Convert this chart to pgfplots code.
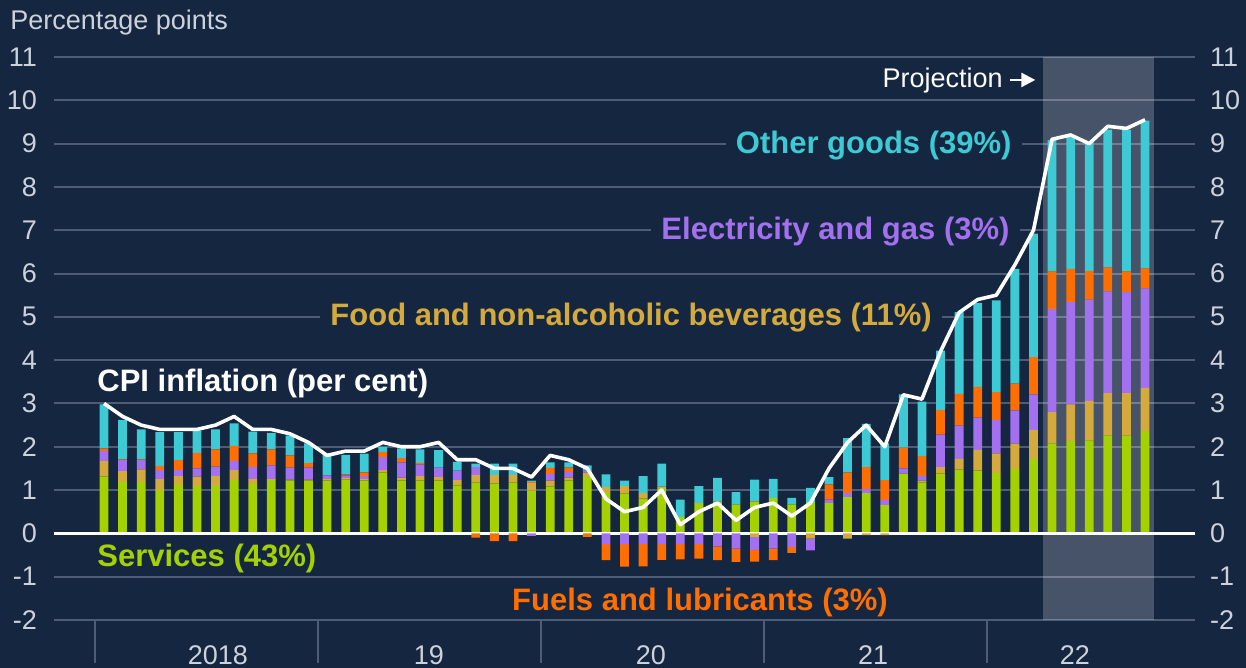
\documentclass[border=0pt]{standalone}
\usepackage{fontspec}
\setmainfont{Liberation Sans}
\usepackage{pgfplots}
\pgfplotsset{compat=1.18}
\usepackage{pgfplotstable}
\usetikzlibrary{arrows.meta}

\definecolor{bg}{RGB}{21,38,64}
\definecolor{gridc}{RGB}{78,93,116}
\definecolor{labc}{RGB}{205,210,218}
\definecolor{cserv}{RGB}{163,210,0}
\definecolor{cfood}{RGB}{212,170,60}
\definecolor{celec}{RGB}{163,112,240}
\definecolor{cfuel}{RGB}{255,110,0}
\definecolor{cother}{RGB}{62,202,212}

\pgfplotstableread{
x s f e fu o fn en fun cpi
0 1.31 0.36 0.23 0.06 1.02 0 0 0 3.0
1 1.19 0.25 0.25 0.02 0.91 0 0 0 2.7
2 1.19 0.29 0.21 0.02 0.69 0 0 0 2.5
3 1.00 0.25 0.21 0.10 0.78 0 0 0 2.4
4 1.12 0.20 0.14 0.23 0.65 0 0 0 2.4
5 1.09 0.22 0.19 0.36 0.51 0 0 0 2.4
6 1.09 0.24 0.21 0.40 0.46 0 0 0 2.5
7 1.23 0.23 0.21 0.35 0.52 0 0 0 2.7
8 1.14 0.12 0.27 0.32 0.50 0 0 0 2.4
9 1.23 0.02 0.32 0.37 0.38 0 0 0 2.4
10 1.22 0.02 0.28 0.28 0.46 0 0 0 2.3
11 1.22 0.02 0.28 0.10 0.46 0 0 0 2.1
12 1.22 0.04 0.08 0.00 0.50 0 0 0 1.8
13 1.24 0.04 0.06 0.02 0.45 0 0 0 1.9
14 1.22 0.03 0.07 0.09 0.43 0 0 0 1.9
15 1.40 0.06 0.30 0.12 0.12 0 0 0 2.1
16 1.22 0.07 0.35 0.10 0.22 0 0 0 2.0
17 1.22 0.10 0.27 0.04 0.31 0 0 0 2.0
18 1.22 0.08 0.22 0.00 0.40 0 0 0 2.1
19 1.11 0.12 0.22 0.00 0.20 0 0 0 1.7
20 1.18 0.17 0.18 0.00 0.08 0 0 -0.10 1.7
21 1.15 0.20 0.00 0.00 0.26 0 0 -0.18 1.5
22 1.18 0.17 0.00 0.00 0.26 0 0 -0.18 1.5
23 0.99 0.17 0.00 0.03 0.03 0 -0.06 0 1.3
24 1.08 0.14 0.15 0.14 0.13 0 0 0 1.8
25 1.22 0.07 0.13 0.10 0.12 0 0 0 1.7
26 1.30 0.10 0.05 0.00 0.12 0 0 -0.08 1.5
27 0.95 0.12 0 0 0.29 0 -0.25 -0.37 0.8
28 0.92 0.17 0 0 0.13 0 -0.25 -0.52 0.5
29 0.80 0.13 0 0 0.39 0 -0.24 -0.52 0.6
30 1.05 0.03 0 0 0.53 0 -0.25 -0.36 1.0
31 0.38 0 0 0 0.40 0 -0.24 -0.36 0.2
32 0.68 0.02 0 0 0.39 0 -0.25 -0.33 0.5
33 0.72 0.02 0 0 0.54 0 -0.30 -0.32 0.7
34 0.67 0 0 0 0.28 0 -0.35 -0.31 0.3
35 0.72 0.02 0 0 0.50 -0.08 -0.30 -0.27 0.6
36 0.82 0 0 0 0.44 0 -0.35 -0.27 0.7
37 0.67 0 0 0 0.15 0 -0.32 -0.13 0.4
38 0.72 0 0 0 0.33 -0.12 -0.27 0 0.7
39 0.70 0 0.08 0.35 0.17 0 0 0 1.5
40 0.84 0 0.09 0.48 0.79 -0.12 0 0 2.1
41 0.93 0 0.10 0.50 1.00 -0.04 0 0 2.5
42 0.65 0 0.12 0.46 0.85 -0.04 0 0 2.0
43 1.38 0 0.12 0.48 1.23 0 0 0 3.2
44 1.18 0.04 0.11 0.46 1.25 0 0 0 3.1
45 1.38 0.15 0.75 0.57 1.37 0 0 0 4.2
46 1.47 0.25 0.77 0.73 1.89 0 0 0 5.1
47 1.45 0.48 0.74 0.71 1.94 0 0 0 5.4
48 1.39 0.46 0.77 0.64 2.12 0 0 0 5.5
49 1.49 0.58 0.77 0.62 2.65 0 0 0 6.2
50 1.72 0.67 0.82 0.86 2.85 0 0 0 7.0
51 2.08 0.72 2.38 0.87 3.03 0 0 0 9.1
52 2.13 0.85 2.36 0.77 3.04 0 0 0 9.2
53 2.15 0.91 2.34 0.66 2.98 0 0 0 9.0
54 2.26 0.98 2.35 0.55 3.18 0 0 0 9.4
55 2.26 0.98 2.33 0.48 3.27 0 0 0 9.35
56 2.36 1.00 2.30 0.46 3.41 0 0 0 9.55
}\data

\pgfplotsset{
  base/.style={
    at={(27pt,24pt)}, anchor=south west,
    scale only axis, width=570.5pt, height=281.5pt,
    xmin=-2.69, xmax=58.69, ymin=-2, ymax=11,
    clip=false,
    axis line style={draw=none},
    xtick=\empty,
    ytick={-2,-1,0,1,2,3,4,5,6,7,8,9,10,11},
    major tick length=0pt,
    ytick style={draw=none},
    /pgf/number format/assume math mode=true,
    yticklabel style={font=\fontsize{13.5}{16}\selectfont, text=labc},
  },
  bars/.style={ybar stacked, bar width=4.4pt},
}
\newcommand{\lab}{\bfseries\fontsize{15.5}{18}\selectfont}
\newcommand{\tlab}{\fontsize{13.5}{16}\selectfont}

\begin{document}
\begin{tikzpicture}
\useasboundingbox (0,0) rectangle (623pt,334pt);
\fill[bg] (0,0) rectangle (623pt,334pt);
\node[anchor=west, inner sep=0pt, text=labc, font=\tlab] at (5pt,322.5pt) {Percentage points};

% Axis 0: grid, projection shading, left labels, year ticks
\begin{axis}[base,
  ymajorgrids, grid style={gridc, line width=1pt},
  yticklabel style={xshift=-5pt},
]
\addplot[draw=none, fill=white, fill opacity=0.21] coordinates {(50.5,-2) (56.5,-2) (56.5,11) (50.5,11)} -- cycle;
\draw[gridc, line width=1pt] (axis cs:-0.5,-2) -- (axis cs:-0.5,-2.99);
\draw[gridc, line width=1pt] (axis cs:11.5,-2) -- (axis cs:11.5,-2.99);
\draw[gridc, line width=1pt] (axis cs:23.5,-2) -- (axis cs:23.5,-2.99);
\draw[gridc, line width=1pt] (axis cs:35.5,-2) -- (axis cs:35.5,-2.99);
\draw[gridc, line width=1pt] (axis cs:47.5,-2) -- (axis cs:47.5,-2.99);
\node[text=labc, inner sep=0pt, font=\tlab] at (axis cs:6.13,-2.82) {2018};
\node[text=labc, inner sep=0pt, font=\tlab] at (axis cs:17.48,-2.82) {19};
\node[text=labc, inner sep=0pt, font=\tlab] at (axis cs:29.42,-2.82) {20};
\node[text=labc, inner sep=0pt, font=\tlab] at (axis cs:41.37,-2.82) {21};
\node[text=labc, inner sep=0pt, font=\tlab] at (axis cs:52.23,-2.82) {22};
\end{axis}

% Axis A: series labels, positive bars
\begin{axis}[base, bars, ytick=\empty]
\node[anchor=east, fill=bg, inner xsep=5pt, inner ysep=1pt, text=cother, font=\lab] at (axis cs:49.38,8.95) {Other goods (39\%)};
\node[anchor=east, fill=bg, inner xsep=5pt, inner ysep=1pt, text=celec, font=\lab] at (axis cs:49.27,6.96) {Electricity and gas (3\%)};
\node[anchor=east, fill=bg, inner xsep=5pt, inner ysep=1pt, text=cfood, font=\lab] at (axis cs:45.08,4.99) {Food and non-alcoholic beverages (11\%)};
\node[anchor=west, inner sep=0pt, text=white, font=\lab] at (axis cs:-0.376,3.45) {CPI inflation (per cent)};
\node[anchor=west, inner sep=0pt, text=cserv, font=\lab] at (axis cs:-0.376,-0.57) {Services (43\%)};
\node[anchor=center, inner sep=0pt, text=cfuel, font=\lab] at (axis cs:32.06,-1.59) {Fuels and lubricants (3\%)};
\node[anchor=east, inner sep=0pt, text=white, font=\tlab] at (axis cs:48.36,10.45) {Projection};
\draw[white, line width=1.2pt, -{Triangle[length=7pt,width=7pt]}] (axis cs:48.75,10.47) -- (axis cs:50.1,10.47);
\addplot[fill=cserv, draw=none] table[x=x, y=s] {\data};
\addplot[fill=cfood, draw=none] table[x=x, y=f] {\data};
\addplot[fill=celec, draw=none] table[x=x, y=e] {\data};
\addplot[fill=cfuel, draw=none] table[x=x, y=fu] {\data};
\addplot[fill=cother, draw=none] table[x=x, y=o] {\data};
\end{axis}

% Axis B: negative bars, zero line, right labels
\begin{axis}[base, bars,
  yticklabel pos=right,
  yticklabel style={xshift=4pt},
]
\addplot[fill=cfood, draw=none] table[x=x, y=fn] {\data};
\addplot[fill=celec, draw=none] table[x=x, y=en] {\data};
\addplot[fill=cfuel, draw=none] table[x=x, y=fun] {\data};
\draw[white, line width=1.5pt] (axis cs:-2.69,0) -- (axis cs:58.69,0);
\end{axis}

% Axis C: CPI line
\begin{axis}[base, hide axis]
\addplot[white, line width=1.8pt, line join=round, mark=none] table[x=x, y=cpi] {\data};
\end{axis}
\end{tikzpicture}
\end{document}
